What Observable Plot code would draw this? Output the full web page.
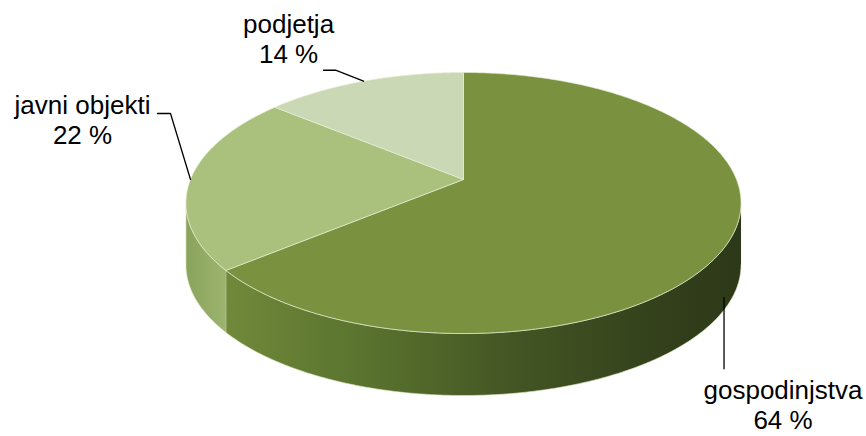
<!DOCTYPE html>
<html><head><meta charset="utf-8">
<script src="https://cdn.jsdelivr.net/npm/d3@7"></script>
<script src="https://cdn.jsdelivr.net/npm/@observablehq/plot@0.6"></script>
<style>html,body{margin:0;padding:0;background:#fff}#chart svg{display:block}</style>
</head><body><div id="chart"></div>
<script>
// ---- data ----
const categories = ["gospodinjstva", "javni objekti", "podjetja"];
const shares = [64, 22, 14];
const shareLabels = ["64 %", "22 %", "14 %"];

// ---- styles ----
const topColors = ["#7a9240", "#a9c17c", "#cbd8b6"];
const wallColors = ["url(#wall0)", "url(#wall1)", "url(#wall2)"];

// ---- layout (pie geometry) ----
const W = 866, H = 436;
const CX = 463, CY = 179;      // pixel position of the pie centre
const PX = 273, PY = 126.3;    // pixels per unit along x and y
const K = 0.18;                // perspective strength
const DEPTH = 62 / PY;         // wall height in y units
const STEP = Math.PI / 360;

const arcs = d3.pie().sort(null).value(d => d)(shares);

function pt(theta, drop = 0) {
  const u = Math.sin(theta), v = Math.cos(theta);
  const s = 1 / (1 + K * v);
  return {x: u * s, y: v * s - drop};
}
function arcPts(a0, a1, drop) {
  const n = Math.max(2, Math.ceil(Math.abs(a1 - a0) / STEP));
  return d3.range(n + 1).map(i => pt(a0 + (a1 - a0) * i / n, drop));
}
const visLo = Math.acos(-K), visHi = 2 * Math.PI - Math.acos(-K);

const tops = arcs.map(a => [{x: 0, y: 0}, ...arcPts(a.startAngle, a.endAngle, 0), {x: 0, y: 0}]);
const walls = arcs.map(a => {
  const lo = Math.max(a.startAngle, visLo), hi = Math.min(a.endAngle, visHi);
  if (lo >= hi) return null;
  return [...arcPts(lo, hi, 0), ...arcPts(hi, lo, DEPTH)];
});
const shadowPts = arcPts(visLo - 0.05, visHi + 0.05, DEPTH + 3 / PY);

// label layout: pixel offsets from each slice's anchor
const labelLayout = [
  {drop: DEPTH, leader: [[-7, -2], [-7, 69]], text: [52, 129]},
  {drop: 0, leader: [[0, 0], [-20, -66], [-33, -66]], text: [-108, -36]},
  {drop: 0, leader: [[0, 0], [-28, -11], [-40, -11]], text: [-75, -18]}
];
const off = (p, d) => ({x: p.x + d[0] / PX, y: p.y - d[1] / PY});
const labels = arcs.map((a, i) => {
  const anchor = pt((a.startAngle + a.endAngle) / 2, labelLayout[i].drop);
  return {
    anchor,
    leader: labelLayout[i].leader.map(d => ({...off(anchor, d), i})),
    pos: {...off(anchor, labelLayout[i].text), label: categories[i] + "\n" + shareLabels[i]}
  };
});

const marks = [];
marks.push(Plot.line(shadowPts, {x: "x", y: "y", stroke: "#8a8a8a", strokeWidth: 5, strokeOpacity: 0.45, ariaLabel: "shadow"}));
walls.forEach((w, i) => {
  if (w) marks.push(Plot.line(w, {x: "x", y: "y", fill: wallColors[i], stroke: "#dfe9c6", strokeWidth: 0.8, strokeOpacity: 0.8}));
});
tops.forEach((t, i) => {
  marks.push(Plot.line(t, {x: "x", y: "y", fill: topColors[i], stroke: "#e6efd2", strokeWidth: 0.8, strokeOpacity: 0.85}));
});
marks.push(Plot.line(labels.flatMap(l => l.leader), {x: "x", y: "y", z: "i", stroke: "#000", strokeWidth: 1.3}));
marks.push(Plot.text(labels.map(l => l.pos), {
  x: "x", y: "y", text: "label", textAnchor: "middle", lineAnchor: "bottom",
  lineHeight: 1.154, fontSize: 26, fontFamily: "Liberation Sans, Arial, sans-serif", fill: "#000"
}));

const chart = Plot.plot({
  width: W, height: H, margin: 0,
  x: {domain: [-CX / PX, (W - CX) / PX], axis: null},
  y: {domain: [-(H - CY) / PY, CY / PY], axis: null},
  style: {background: "#fff"},
  marks
});

// gradients & blur filter
const defs = d3.select(chart).insert("defs", ":first-child");
function grad(id, stops) {
  const g = defs.append("linearGradient").attr("id", id).attr("x1", 0).attr("x2", 1).attr("y1", 0).attr("y2", 0);
  stops.forEach(([o, c]) => g.append("stop").attr("offset", o).attr("stop-color", c));
}
grad("wall0", [[0, "#70893a"], [0.3, "#57702d"], [0.55, "#445624"], [0.85, "#33401b"], [1, "#2d3818"]]);
grad("wall1", [[0, "#8aa35c"], [1, "#9cb46f"]]);
grad("wall2", [[0, "#b8c8a0"], [1, "#c3d2ac"]]);
defs.append("filter").attr("id", "blur").attr("x", "-10%").attr("y", "-50%").attr("width", "120%").attr("height", "200%")
  .append("feGaussianBlur").attr("stdDeviation", 2.5);
d3.select(chart).selectAll('g[aria-label="shadow"]').attr("filter", "url(#blur)");

document.getElementById("chart").appendChild(chart);
</script>
</body></html>
